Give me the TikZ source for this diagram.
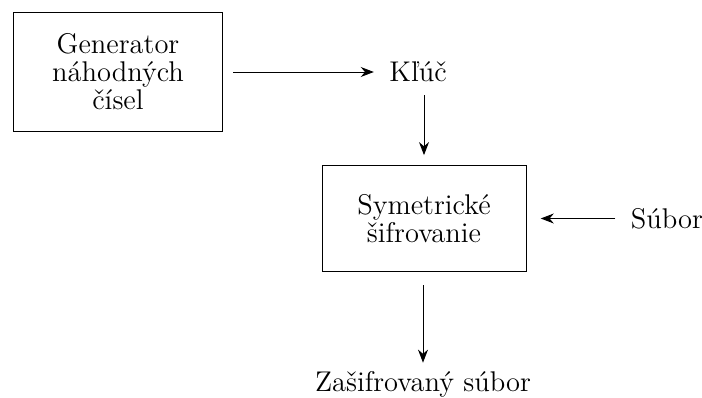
\documentclass[tikz,border=0pt]{standalone}
\usetikzlibrary{positioning,arrows.meta}
\begin{document}
\begin{tikzpicture}[
    x=0.0148cm, y=-0.0148cm,
    ->,
    >={Stealth[length=5.5pt,width=4.2pt]},
    every node/.style={font=\fontsize{12pt}{11.8pt}\selectfont},
    block/.style={rectangle, draw, align=center},
]
    \useasboundingbox (0,0) rectangle (702,398);
    \node[block, minimum width=3.08cm, minimum height=1.75cm] (gen) at (118,72) {Generator\\náhodných\\čísel};
    \node (kluc) at (418,72) {Kľúč};
    \node[block, minimum width=3.02cm, minimum height=1.58cm] (sym) at (424,218.5) {Symetrické\\šifrovanie};
    \node (subor) at (667,218.5) {Súbor};
    \node (zas) at (423,384) {Zašifrovaný súbor};

    \draw[shorten <=4.6pt, shorten >=3pt] (gen) -- (kluc);
    \draw[shorten <=2pt, shorten >=4pt] (kluc.south -| sym.north) -- (sym.north);
    \draw[shorten <=3pt, shorten >=6pt] (subor) -- (sym);
    \draw[shorten <=5.5pt] (sym.south -| zas) -- (zas);
\end{tikzpicture}
\end{document}
